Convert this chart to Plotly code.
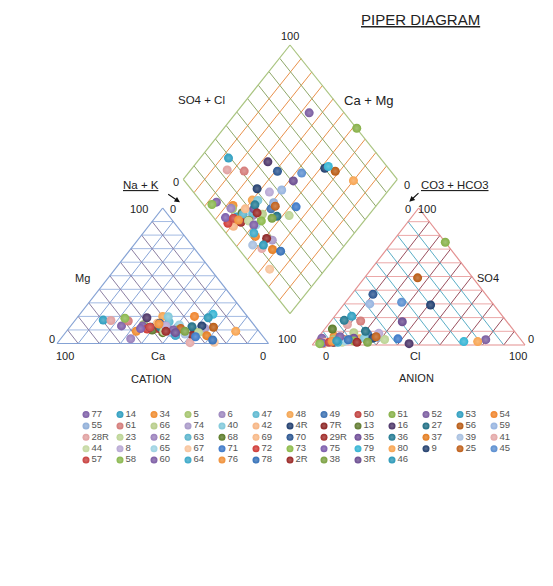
import plotly.graph_objects as go

# ---------------- data (percent of meq) ----------------
SAMPLES = ["77", "14", "34", "5", "6", "47", "48", "49", "50", "51", "52", "53", "54",
           "55", "61", "66", "74", "40", "42", "4R", "7R", "13", "16", "27", "56", "59",
           "28R", "23", "62", "63", "68", "69", "70", "29R", "35", "36", "37", "39", "41",
           "44", "8", "65", "67", "71", "72", "73", "75", "79", "80", "9", "25", "45",
           "57", "58", "60", "64", "76", "78", "2R", "38", "3R", "46"]
CA = [63, 69.5, 58, 52, 42, 39, 40, 36, 48, 30, 53, 49, 25,
      37, 58, 41, 24.5, 37.5, 47, 25, 33, 50, 48, 30, 20, 42,
      66, 29, 63.4, 45, 46, 45, 44, 46, 43, 45, 26.3, 36, 36.8,
      45, 42, 35.3, 25.2, 32, 52, 38, 55, 15.5, 11, 50, 36, 41,
      50, 58.6, 40, 41, 44.6, 25.1, 44, 35, 40, 19]
MG = [13, 17.3, 9, 14, 12, 16, 20, 12, 11, 8, 13, 12, 20,
      12, 16.6, 9, 11.2, 19.8, 12, 13, 6, 10, 19, 12.4, 12, 8,
      17, 8, 3.5, 14, 8, 15, 15, 11, 13, 12, 5.8, 7, 0.6,
      9, 13, 13.7, 0.9, 5, 10.7, 10, 11, 21.5, 9, 12, 11, 6,
      12, 18.6, 10, 6, 14.4, 2.6, 9, 9, 8, 19]
CL = [2, 8, 7, 8, 15, 16, 20, 22, 10, 25, 79.6, 9, 10,
      28, 14, 15, 15, 22, 5, 41, 13, 12, 45, 20, 25, 12,
      9, 32, 9, 12, 3.6, 14, 10, 9, 17, 6, 12, 6, 8,
      13, 27, 14, 5, 38, 3, 18, 4, 70, 76.5, 26, 27, 26.4,
      7, 3, 10, 11, 8, 15, 20, 25, 33.8, 10]
SO4 = [5, 21, 6.5, 4, 4, 4, 4.5, 8, 3, 75, 3.9, 2, 2.5,
       5.5, 17.5, 9, 4, 5, 1, 29.2, 4, 3, 1, 10, 49, 30,
       15, 4, 2.5, 3, 11.7, 4, 37, 2, 5, 18, 3.6, 2, 3,
       2, 8.5, 3, 2, 4.5, 1.5, 3, 1.5, 2.5, 2.5, 5, 6, 31.2,
       2, 1, 6, 2, 2.7, 3.8, 2, 2, 17, 3]

# ---------------- styles ----------------
COLORS = {
    "77": "#7E5FA8", "14": "#2E9EC0", "34": "#F08C2E", "5": "#A3C46C", "6": "#9C86BE",
    "47": "#5CB8D0", "48": "#F4A450", "49": "#3A6FB0", "50": "#C0403D", "51": "#86B046",
    "52": "#7A5CA0", "53": "#2E9EBF", "54": "#F0842A",
    "55": "#8FAED8", "61": "#D47A78", "66": "#B6CC88", "74": "#A898C8", "40": "#80C8DA",
    "42": "#F6B482", "4R": "#1F3D6E", "7R": "#8B2322", "13": "#5F7A2E", "16": "#4B3468",
    "27": "#1E6E84", "56": "#B85A12", "59": "#96B4E0",
    "28R": "#E0A0A0", "23": "#BCD494", "62": "#9A80BC", "63": "#5AB4CC", "68": "#5A7A26",
    "69": "#F7B886", "70": "#2A5590", "29R": "#A02A28", "35": "#6E4C96", "36": "#237A92",
    "37": "#E47C1E", "39": "#A8C0E0", "41": "#E4A8A8",
    "44": "#C4D8A0", "8": "#B8A8D4", "65": "#9CD2E2", "67": "#F8C49C", "71": "#3C78C8",
    "72": "#D03A36", "73": "#8CBA48", "75": "#7C5CAC", "79": "#34B4D4", "80": "#F8A450",
    "9": "#23406E", "25": "#C0601A", "45": "#5A8ED0",
    "57": "#C8403E", "58": "#8AB84E", "60": "#7C5CA4", "64": "#3AA8C8", "76": "#F09038",
    "78": "#3470B8", "2R": "#9A2624", "38": "#7AA040", "3R": "#6A4C90", "46": "#2A98B8",
}

FONT = "Liberation Sans, Arial, sans-serif"
W, H = 553, 586

# geometry of the three plotting fields (page pixel frame)
CAT_L, CAT_R, CAT_T = (57.0, 343.5), (268.5, 343.5), (162.7, 208.0)
AN_L, AN_R, AN_T = (312.3, 345.0), (525.0, 345.0), (418.7, 208.0)
DI_L, DI_R, DI_T, DI_B = (183.3, 179.3), (397.3, 179.3), (290.0, 45.0), (290.0, 313.6)


def tern(L, R, T, wl, wr, wt):
    return (wl * L[0] + wr * R[0] + wt * T[0], wl * L[1] + wr * R[1] + wt * T[1])


def cat_xy(ca, mg, na):
    return tern(CAT_L, CAT_R, CAT_T, ca, na, mg)


def an_xy(hco3, cl, so4):
    return tern(AN_L, AN_R, AN_T, hco3, cl, so4)


def di_xy(a, s):
    return (DI_B[0] + a * (DI_L[0] - DI_B[0]) + s * (DI_R[0] - DI_B[0]),
            DI_B[1] + a * (DI_L[1] - DI_B[1]) + s * (DI_R[1] - DI_B[1]))


def lighten(h, f):
    r, g, b = int(h[1:3], 16), int(h[3:5], 16), int(h[5:7], 16)
    r, g, b = (int(c + (255 - c) * f) for c in (r, g, b))
    return "#%02x%02x%02x" % (r, g, b)


fig = go.Figure()


def add_segments(segs, color, width=1.0):
    xs, ys = [], []
    for p1, p2 in segs:
        xs += [p1[0], p2[0], None]
        ys += [p1[1], p2[1], None]
    fig.add_trace(go.Scatter(x=xs, y=ys, mode="lines", line=dict(color=color, width=width),
                             hoverinfo="skip", showlegend=False))


fr = [i / 10 for i in range(1, 10)]

# cation grid
add_segments([(cat_xy(1 - f, f, 0), cat_xy(0, f, 1 - f)) for f in fr], "#A3BAE2")
add_segments([(cat_xy(1 - f, 0, f), cat_xy(0, 1 - f, f)) for f in fr], "#86A3D6")
add_segments([(cat_xy(f, 0, 1 - f), cat_xy(f, 1 - f, 0)) for f in fr], "#8C7FA2")
add_segments([(CAT_L, CAT_R), (CAT_R, CAT_T), (CAT_T, CAT_L)], "#85A2D4", 1.2)

# anion grid
add_segments([(an_xy(1 - f, 0, f), an_xy(0, 1 - f, f)) for f in fr], "#EBA8A8")
add_segments([(an_xy(1 - f, f, 0), an_xy(0, f, 1 - f)) for f in fr], "#9A4F5E")
add_segments([(an_xy(f, 1 - f, 0), an_xy(f, 0, 1 - f)) for f in fr], "#5AAEC6")
add_segments([(AN_L, AN_R), (AN_R, AN_T), (AN_T, AN_L)], "#E39090", 1.2)

# diamond grid
add_segments([(di_xy(f, 0), di_xy(f, 1)) for f in fr], "#E8904A")
add_segments([(di_xy(0, f), di_xy(1, f)) for f in fr], "#8FA86A")
add_segments([(DI_B, DI_L), (DI_L, DI_T), (DI_T, DI_R), (DI_R, DI_B)], "#A9C47F", 1.2)

# samples
for name, ca, mg, cl, so4 in zip(SAMPLES, CA, MG, CL, SO4):
    na = 100 - ca - mg
    hco3 = 100 - cl - so4
    p1 = cat_xy(ca / 100, mg / 100, na / 100)
    p2 = an_xy(hco3 / 100, cl / 100, so4 / 100)
    p3 = di_xy((ca + mg) / 100, (cl + so4) / 100)
    c = COLORS[name]
    fig.add_trace(go.Scatter(
        x=[p1[0], p2[0], p3[0]], y=[p1[1], p2[1], p3[1]], mode="markers", name=name,
        marker=dict(size=9, color=c, line=dict(width=0),
                    gradient=dict(type="radial", color=lighten(c, 0.25))),
        showlegend=False))

# custom legend grid (13 per row)
NCOL = 13
lx, ly = [], []
for i, name in enumerate(SAMPLES):
    lx.append(86 + 34 * (i % NCOL))
    ly.append(414.5 + 11.4 * (i // NCOL))
fig.add_trace(go.Scatter(
    x=lx, y=ly, mode="markers+text", text=SAMPLES, textposition="middle right",
    textfont=dict(family=FONT, size=9.5, color="#555555"),
    marker=dict(size=7, color=[COLORS[n] for n in SAMPLES], line=dict(width=0),
                gradient=dict(type="radial", color=[lighten(COLORS[n], 0.25) for n in SAMPLES])),
    hoverinfo="skip", showlegend=False, cliponaxis=False))

# labels
labels = [
    ("100", 290, 36, 11), ("SO4 + Cl", 201, 100, 11.5), ("Ca + Mg", 369, 100, 13),
    ("0", 176, 181.5, 11), ("0", 407, 185, 11),
    ("100", 138.5, 208.5, 11), ("0", 173.3, 208.5, 11),
    ("0", 408.3, 208.5, 11), ("100", 427, 208.5, 11),
    ("Mg", 82.7, 278.3, 11), ("SO4", 488.3, 278.3, 11),
    ("0", 51.7, 339, 11), ("100", 287, 339, 11), ("0", 530.7, 339, 11),
    ("100", 65, 355.7, 11), ("Ca", 158.3, 355.7, 11), ("0", 262.7, 355.7, 11),
    ("0", 325.7, 355.7, 11), ("Cl", 415, 355.7, 11), ("100", 518.3, 355.7, 11),
    ("CATION", 151.7, 379, 11), ("ANION", 416, 377.7, 11),
]
for t, x, y, s in labels:
    fig.add_annotation(x=x, y=y, text=t, showarrow=False, xanchor="center", yanchor="middle",
                       font=dict(family=FONT, size=s, color="#222222"))

for t, x, y, s in [("PIPER DIAGRAM", 420, 19, 15), ("Na + K", 141, 185, 11.5),
                   ("CO3 + HCO3", 455, 185, 11.3)]:
    fig.add_annotation(x=x, y=y, text=t, showarrow=False, xanchor="center", yanchor="middle",
                       font=dict(family=FONT, size=s, color="#222222", lineposition="under"))

# arrows
for (hx, hy), (tx, ty) in [((180, 202.3), (166.7, 193.3)), ((409.3, 201.7), (420, 191.7))]:
    fig.add_annotation(x=hx, y=hy, ax=tx - hx, ay=ty - hy, text="", showarrow=True,
                       arrowhead=2, arrowsize=1, arrowwidth=1.1, arrowcolor="#111111")

fig.update_xaxes(range=[0, W], visible=False, fixedrange=True)
fig.update_yaxes(range=[H, 0], visible=False, fixedrange=True)
fig.update_layout(width=W, height=H, margin=dict(l=0, r=0, t=0, b=0),
                  plot_bgcolor="white", paper_bgcolor="white", showlegend=False)

fig.write_html("out.html")
